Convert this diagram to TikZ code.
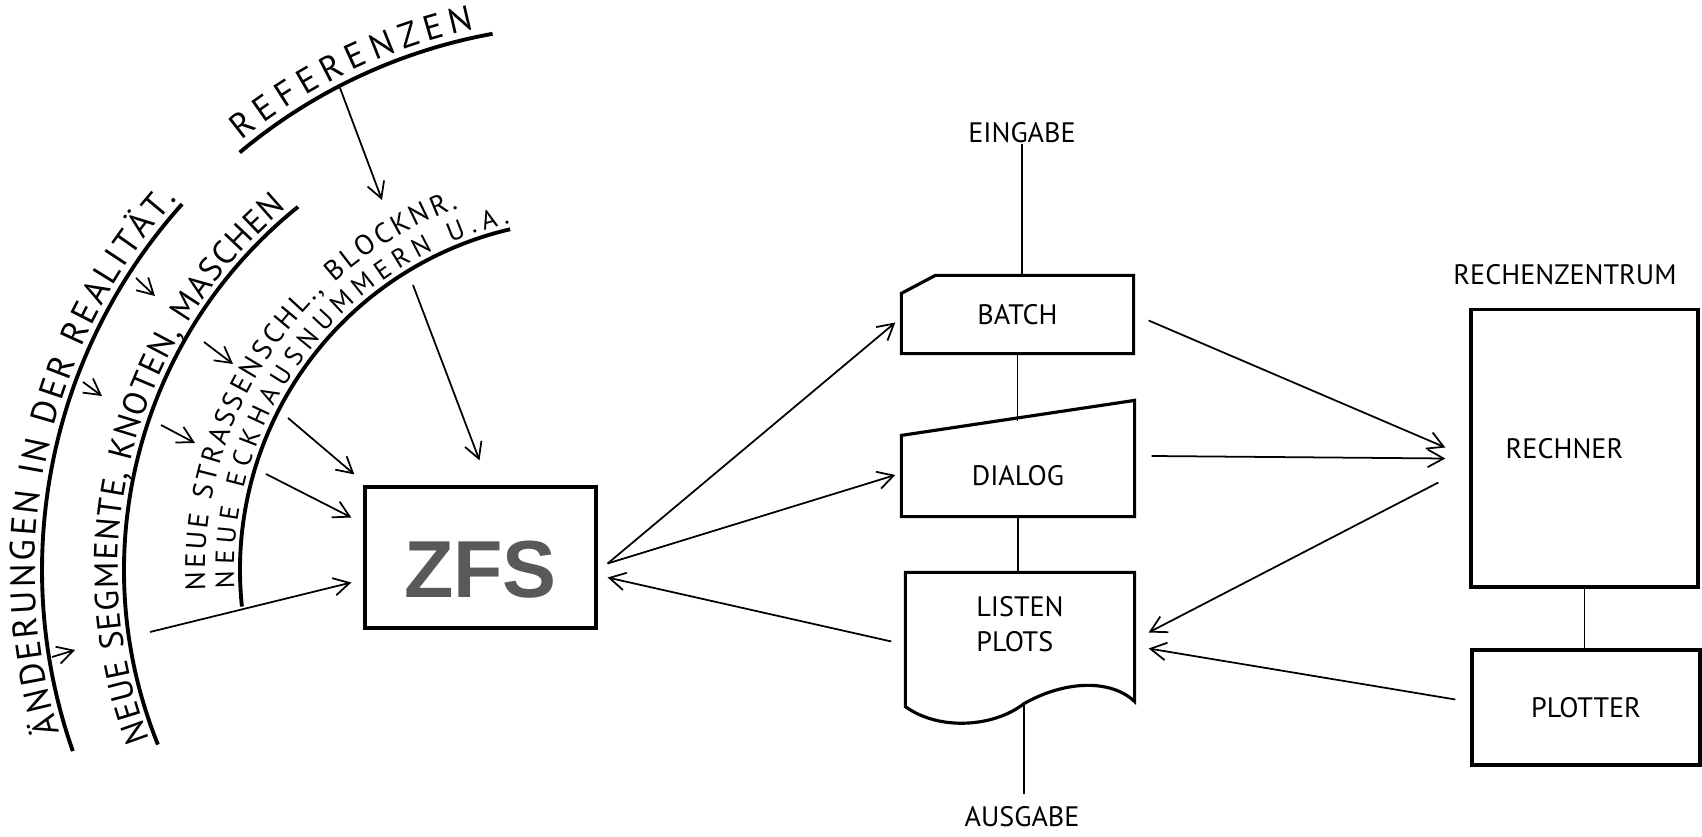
\documentclass[tikz,border=0pt]{standalone}
\usepackage{fontspec}
\setmainfont{PT Sans}
\newfontfamily\zfsfont{Liberation Sans}
\usetikzlibrary{positioning,calc,arrows.meta,decorations.text}
\tikzset{%
	every box/.style={
		rectangle,
		inner sep=0pt,
		line width=0.9pt,
		font=\fontsize{8}{10}\selectfont
	},
	box drawn/.style={
		draw
	},
	box line/.style={
		line width=0.9pt
	},
	io label/.style={
		inner sep=0pt,
		font=\fontsize{8}{10}\selectfont
	},
	hand arc/.style={
		line width=1.1pt
	},
	flow/.style={
		->,
		line width=0.5pt
	},
}

\begin{document}
\begin{tikzpicture}[x=0.01cm, y=0.01cm, >={Straight Barb[length=4.5pt,width=5pt]}]

	\useasboundingbox (0,0) rectangle (1702,-837);

	% hand written part
	\coordinate (ctr) at (590,-570);
	\draw[hand arc] ($(ctr)+(199.3:548)$) arc[start angle=199.3, end angle=138.1, radius=548];
	\draw[hand arc] ($(ctr)+(202:466)$) arc[start angle=202, end angle=128.8, radius=466];
	\draw[hand arc] ($(ctr)+(186:350)$) arc[start angle=186, end angle=103.2, radius=350];
	\draw[hand arc] ($(ctr)+(130:545)$) arc[start angle=130, end angle=100.3, radius=545];

	\path[decorate, decoration={text along path, text align={fit to path},
		text={|\fontsize{10}{12}\selectfont|ÄNDERUNGEN IN DER REALITÄT.}}]
		($(ctr)+(197:555)$) arc[start angle=197, end angle=138, radius=555];
	\path[decorate, decoration={text along path, text align={fit to path},
		text={|\fontsize{9.5}{12}\selectfont|NEUE SEGMENTE, KNOTEN, MASCHEN}}]
		($(ctr)+(201:472)$) arc[start angle=201, end angle=130, radius=472];
	\path[decorate, decoration={text along path, text align={fit to path},
		text={|\fontsize{7.5}{9}\selectfont|NEUE ECKHAUSNUMMERN U.A.}}]
		($(ctr)+(183:356)$) arc[start angle=183, end angle=103, radius=356];
	\path[decorate, decoration={text along path, text align={fit to path},
		text={|\fontsize{8}{10}\selectfont|NEUE STRASSENSCHL., BLOCKNR.}}]
		($(ctr)+(183:385)$) arc[start angle=183, end angle=110, radius=385];
	\path[decorate, decoration={text along path, text align={fit to path},
		text={|\fontsize{10}{12}\selectfont|REFERENZEN}}]
		($(ctr)+(129:553)$) arc[start angle=129, end angle=102, radius=553];

	\foreach \n/\x/\y/\dx/\dy in {1/83/382/19/-14, 2/136/278/19/-18, 3/161/425/34/-18, 4/204/342/29/-22, 5/52/657/23/7}
	{
		\coordinate (tick-\n) at (\x,-\y);
		\draw[flow] (tick-\n) -- ++(\dx,\dy);
	}

	% boxes
	\node[every box, box drawn, minimum width=23.1mm, minimum height=14.1mm, text height=23pt,
		font=\zfsfont\bfseries\fontsize{23}{23}\selectfont, text=black!65] (zfs) at (480.5,-557.5) {ZFS};
	\node[every box, minimum width=22.9mm, minimum height=7.5mm] (batch) at (1017.5,-314.5) {BATCH};
	\node[every box, minimum width=23mm, minimum height=7.8mm] (dialog) at (1018,-476) {DIALOG};
	\node[every box, minimum width=22.6mm, minimum height=10.1mm, align=left] (listen) at (1020,-624.5) {LISTEN\\PLOTS};
	\node[every box, box drawn, minimum width=22.7mm, minimum height=27.7mm] (rechner) at (1584.5,-448.5) {\hspace*{-4mm}RECHNER};
	\node[every box, box drawn, minimum width=22.8mm, minimum height=11.5mm] (plotter) at (1586,-707.5) {PLOTTER};

	\node[io label] (eingabe) at (1022,-133) {EINGABE};
	\node[io label] (ausgabe) at (1022,-817) {AUSGABE};
	\node[io label] (zentrum) at (1565,-275) {RECHENZENTRUM};

	\draw[box line] (batch.south west) -- ($(batch.north west)+(0,-18)$) -- ($(batch.north west)+(34,0)$)
		-- (batch.north east) -- (batch.south east) -- cycle;
	\draw[box line] (dialog.south west) -- (dialog.north west) -- ($(dialog.north east)+(0,35)$)
		-- (dialog.south east) -- cycle;
	\coordinate (wave) at ($(listen.south)+(4,-27)$);
	\draw[box line] (listen.north west) -- (listen.north east) -- ($(listen.south east)+(0,-25)$)
		.. controls ($(listen.south east)+(-23,-3)$) and ($(listen.south east)+(-68,-3)$) .. (wave)
		.. controls ($(wave)+(-29,-23)$) and ($(wave)+(-84,-28)$) .. ($(listen.south west)+(0,-30)$) -- cycle;

	% connections
	\coordinate (dlg-top) at ($(batch.south)+(0,-67.6)$);
	\draw (eingabe.south) -- (eingabe.south |- batch.north);
	\draw (batch.south) -- (dlg-top);
	\draw (dialog.south) -- (dialog.south |- listen.north);
	\draw (wave) -- ($(ausgabe.north)+(2,12)$);
	\draw (rechner.south) -- (rechner.south |- plotter.north);

	\draw[flow] ($(zfs.east)+(10,-6)$) -- ($(batch.west)+(-6,-8)$);
	\draw[flow] ($(zfs.east)+(10,-6)$) -- ($(dialog.west)+(-6,1)$);
	\draw[flow] ($(listen.west)+(-14,-17)$) -- ($(zfs.east)+(10,-20)$);
	\draw[flow] ($(batch.east)+(15,-6)$) -- ($(rechner.west)+(-24,1)$);
	\draw[flow] ($(dialog.east)+(17,20)$) -- ($(rechner.west)+(-24,-10)$);
	\draw[flow] ($(rechner.west)+(-31,-34)$) -- ($(listen.east)+(14,-8)$);
	\draw[flow] ($(plotter.west)+(-15,8)$) -- ($(listen.east)+(14,-24)$);

	\coordinate (ref-foot) at (340,-88);
	\coordinate (ref-tip) at (382,-200);
	\coordinate (eck-foot) at (413,-285);
	\coordinate (str-foot) at (288,-418);
	\coordinate (neu-foot) at (266,-474);
	\coordinate (seg-foot) at (150,-632);
	\draw[flow] (ref-foot) -- (ref-tip);
	\draw[flow] (eck-foot) -- ($(zfs.north)+(-1,25)$);
	\draw[flow] (str-foot) -- ($(zfs.north west)+(-9,11)$);
	\draw[flow] (neu-foot) -- ($(zfs.west)+(-12,40)$);
	\draw[flow] (seg-foot) -- ($(zfs.west)+(-12,-25)$);

\end{tikzpicture}
\end{document}
